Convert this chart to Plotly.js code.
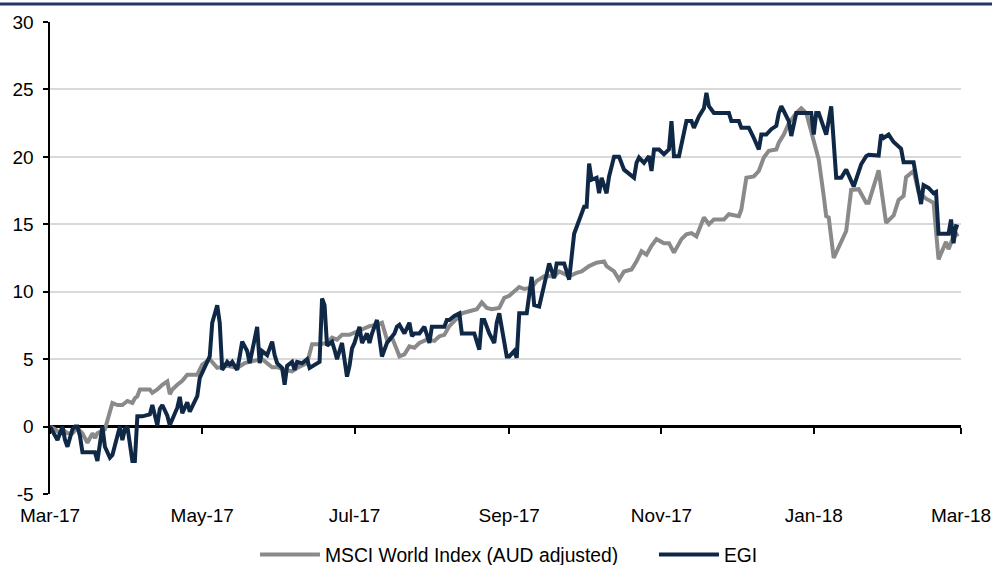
<!DOCTYPE html>
<html>
<head>
<meta charset="utf-8">
<script src="https://cdn.plot.ly/plotly-3.0.1.min.js"></script>
<style>
  html, body { margin: 0; padding: 0; background: #ffffff; }
  #chart { width: 992px; height: 565px; }
</style>
</head>
<body>
<div id="chart"></div>
<script>
// Cumulative performance (%), March 2017 to March 2018
const msciDates = [
  '2017-03-01','2017-03-03','2017-03-05','2017-03-06','2017-03-08','2017-03-10','2017-03-12','2017-03-14',
  '2017-03-16','2017-03-18','2017-03-19','2017-03-20','2017-03-23','2017-03-25','2017-03-26','2017-03-28',
  '2017-03-30','2017-04-01','2017-04-03','2017-04-04','2017-04-05','2017-04-06','2017-04-10','2017-04-11',
  '2017-04-13','2017-04-15','2017-04-17','2017-04-18','2017-04-19','2017-04-21','2017-04-23','2017-04-25',
  '2017-04-29','2017-05-01','2017-05-04','2017-05-07','2017-05-11','2017-05-15','2017-05-18','2017-05-21',
  '2017-05-25','2017-05-29','2017-05-31','2017-06-03','2017-06-06','2017-06-08','2017-06-12','2017-06-14',
  '2017-06-17','2017-06-20','2017-06-22','2017-06-24','2017-06-26','2017-06-29','2017-07-01','2017-07-04',
  '2017-07-07','2017-07-10','2017-07-12','2017-07-14','2017-07-16','2017-07-18','2017-07-19','2017-07-21',
  '2017-07-23','2017-07-25','2017-07-27','2017-07-30','2017-08-02','2017-08-04','2017-08-06','2017-08-08',
  '2017-08-11','2017-08-13','2017-08-16','2017-08-19','2017-08-21','2017-08-23','2017-08-25','2017-08-28',
  '2017-08-30','2017-09-01','2017-09-05','2017-09-07','2017-09-10','2017-09-12','2017-09-15','2017-09-19',
  '2017-09-21','2017-09-25','2017-09-28','2017-09-30','2017-10-03','2017-10-06','2017-10-09','2017-10-10',
  '2017-10-13','2017-10-15','2017-10-17','2017-10-20','2017-10-22','2017-10-24','2017-10-26','2017-10-28',
  '2017-10-30','2017-11-02','2017-11-04','2017-11-06','2017-11-09','2017-11-11','2017-11-13','2017-11-15',
  '2017-11-18','2017-11-20','2017-11-22','2017-11-26','2017-11-28','2017-12-02','2017-12-03','2017-12-05',
  '2017-12-08','2017-12-10','2017-12-12','2017-12-14','2017-12-17','2017-12-18','2017-12-20','2017-12-22',
  '2017-12-25','2017-12-27','2017-12-29','2017-12-30','2017-12-31','2018-01-03','2018-01-05','2018-01-06',
  '2018-01-07','2018-01-09','2018-01-14','2018-01-16','2018-01-19','2018-01-22','2018-01-23','2018-01-25',
  '2018-01-27','2018-01-30','2018-02-02','2018-02-04','2018-02-06','2018-02-07','2018-02-10','2018-02-12',
  '2018-02-15','2018-02-18','2018-02-20','2018-02-23','2018-02-24','2018-02-26','2018-02-28'
];
const msciValues = [
  0, -0.2, -0.5, -0.2, -0.5, -0.5, -0.1, -0.5,
  -1.2, -0.5, -0.85, -0.5, -0.2, 1.25, 1.75, 1.6,
  1.6, 1.9, 1.75, 2.1, 2.25, 2.75, 2.75, 2.5,
  2.75, 3.1, 3.35, 2.4, 2.75, 3.1, 3.4, 3.85,
  3.85, 4.6, 5.0, 4.35, 4.5, 4.35, 4.7, 4.85,
  5.0, 4.4, 4.4, 4.2, 4.1, 4.35, 4.7, 6.1,
  6.1, 6.2, 6.6, 6.45, 6.8, 6.8, 6.95, 7.2,
  7.45, 7.55, 7.7, 6.45, 6.6, 5.7, 5.2, 5.35,
  5.95, 5.85, 6.2, 6.45, 6.35, 6.7, 6.8, 7.45,
  8.05, 8.4, 8.55, 8.7, 9.2, 8.8, 8.7, 8.8,
  9.55, 9.7, 10.35, 10.2, 10.3, 10.8, 11.15, 11.15,
  11.5, 11.15, 11.4, 11.5, 11.9, 12.15, 12.25, 11.9,
  11.5, 10.9, 11.5, 11.65, 12.25, 13.0, 12.75, 13.4,
  13.9, 13.6, 13.6, 12.9, 13.9, 14.25, 14.35, 14.1,
  15.5, 15.0, 15.35, 15.35, 15.75, 15.6, 16.1, 18.45,
  18.55, 18.95, 19.95, 20.45, 20.55, 21.05, 21.65, 22.5,
  23.25, 23.6, 23.25, 22.5, 22.0, 19.8, 17.1, 15.6,
  15.5, 12.5, 14.5, 17.55, 17.6, 16.6, 16.6, 17.8,
  19.0, 15.1, 15.65, 16.8, 17.1, 18.5, 18.95, 17.4,
  16.9, 16.6, 12.4, 13.7, 13.15, 14.1, 14.3
];

const egiDates = [
  '2017-03-01','2017-03-04','2017-03-06','2017-03-07','2017-03-08','2017-03-10','2017-03-11','2017-03-12',
  '2017-03-13','2017-03-14','2017-03-16','2017-03-19','2017-03-20','2017-03-22','2017-03-23','2017-03-25',
  '2017-03-26','2017-03-28','2017-03-29','2017-03-30','2017-03-31','2017-04-01','2017-04-03','2017-04-04',
  '2017-04-05','2017-04-07','2017-04-10','2017-04-11','2017-04-13','2017-04-14','2017-04-15','2017-04-17',
  '2017-04-18','2017-04-21','2017-04-22','2017-04-23','2017-04-25','2017-04-26','2017-04-27','2017-04-29',
  '2017-04-30','2017-05-03','2017-05-04','2017-05-05','2017-05-07','2017-05-08','2017-05-09','2017-05-11',
  '2017-05-12','2017-05-13','2017-05-15','2017-05-16','2017-05-17','2017-05-19','2017-05-20','2017-05-21',
  '2017-05-23','2017-05-24','2017-05-25','2017-05-27','2017-05-29','2017-05-30','2017-05-31','2017-06-02',
  '2017-06-03','2017-06-04','2017-06-06','2017-06-07','2017-06-08','2017-06-10','2017-06-12','2017-06-13',
  '2017-06-16','2017-06-17','2017-06-18','2017-06-19','2017-06-20','2017-06-22','2017-06-23','2017-06-24',
  '2017-06-26','2017-06-28','2017-06-29','2017-06-30','2017-07-01','2017-07-03','2017-07-04','2017-07-06',
  '2017-07-07','2017-07-08','2017-07-10','2017-07-11','2017-07-12','2017-07-14','2017-07-15','2017-07-17',
  '2017-07-18','2017-07-19','2017-07-21','2017-07-23','2017-07-24','2017-07-25','2017-07-27','2017-07-29',
  '2017-07-31','2017-08-01','2017-08-04','2017-08-06','2017-08-07','2017-08-08','2017-08-10','2017-08-12',
  '2017-08-13','2017-08-16','2017-08-18','2017-08-20','2017-08-21','2017-08-22','2017-08-24','2017-08-26',
  '2017-08-27','2017-08-28','2017-08-30','2017-08-31','2017-09-01','2017-09-03','2017-09-04','2017-09-05',
  '2017-09-08','2017-09-10','2017-09-11','2017-09-13','2017-09-17','2017-09-19','2017-09-20','2017-09-23',
  '2017-09-25','2017-09-27','2017-10-01','2017-10-02','2017-10-03','2017-10-04','2017-10-06','2017-10-07',
  '2017-10-08','2017-10-10','2017-10-11','2017-10-13','2017-10-15','2017-10-17','2017-10-21','2017-10-22',
  '2017-10-23','2017-10-25','2017-10-27','2017-10-28','2017-10-29','2017-10-31','2017-11-02','2017-11-04',
  '2017-11-05','2017-11-06','2017-11-08','2017-11-11','2017-11-13','2017-11-14','2017-11-16','2017-11-18',
  '2017-11-19','2017-11-20','2017-11-22','2017-11-28','2017-11-29','2017-12-02','2017-12-03','2017-12-06',
  '2017-12-08','2017-12-10','2017-12-11','2017-12-13','2017-12-15','2017-12-17','2017-12-18','2017-12-19',
  '2017-12-20','2017-12-22','2017-12-23','2017-12-25','2017-12-29','2017-12-31','2018-01-01','2018-01-02',
  '2018-01-03','2018-01-06','2018-01-08','2018-01-10','2018-01-12','2018-01-14','2018-01-17','2018-01-20',
  '2018-01-22','2018-01-23','2018-01-27','2018-01-28','2018-01-29','2018-01-31','2018-02-02','2018-02-05',
  '2018-02-06','2018-02-10','2018-02-12','2018-02-13','2018-02-14','2018-02-16','2018-02-18','2018-02-19',
  '2018-02-20','2018-02-24','2018-02-25','2018-02-26','2018-02-27','2018-02-28'
];
const egiValues = [
  0, -1.0, 0, -1.0, -1.5, -0.2, 0, 0,
  -0.7, -1.9, -1.9, -1.9, -2.55, 0, -1.5, -2.3,
  -2.1, -0.6, 0, -1.0, -0.2, 0, -2.55, -2.55,
  0.76, 0.76, 0.9, 1.6, 0.1, 1.3, 1.6, 0.8,
  0.1, 1.4, 2.2, 1.0, 1.8, 1.1, 1.5, 2.25,
  3.6, 4.8, 5.2, 7.7, 9.0, 7.7, 4.2, 4.8,
  4.6, 4.8, 4.2, 5.2, 6.3, 5.6, 4.7, 5.6,
  7.4, 4.7, 5.6, 5.3, 6.3, 5.3, 4.7, 4.35,
  3.1, 4.5, 4.8, 4.2, 4.8, 4.7, 5.0, 4.35,
  4.7, 4.8, 9.5, 9.0, 6.0, 6.3, 5.7, 5.0,
  6.2, 3.7, 4.5, 5.8, 6.2, 7.4, 6.2, 6.9,
  6.2, 6.9, 7.9, 6.7, 5.2, 6.2, 6.45, 6.9,
  7.4, 7.55, 6.9, 7.7, 6.7, 6.9, 6.9, 7.4,
  6.2, 7.4, 7.4, 7.4, 7.9, 7.9, 8.2, 8.4,
  6.9, 6.9, 6.9, 5.7, 7.9, 7.9, 6.9, 6.2,
  7.7, 8.4, 6.2, 5.2, 5.2, 5.6, 5.1, 8.4,
  8.4, 11.1, 9.0, 8.9, 12.1, 11.0, 12.1, 12.1,
  10.9, 14.3, 16.3, 16.3, 19.5, 18.3, 18.45, 17.3,
  18.45, 17.3, 18.55, 20.0, 20.0, 19.05, 18.45, 19.55,
  19.95, 19.55, 20.05, 18.95, 20.55, 20.55, 20.2, 20.55,
  22.65, 20.05, 20.05, 22.65, 22.65, 22.15, 23.0, 23.6,
  24.75, 23.75, 23.25, 23.25, 22.65, 22.65, 22.15, 22.15,
  21.4, 20.55, 21.65, 21.65, 22.05, 22.3, 23.25, 23.75,
  23.4, 22.65, 21.55, 23.25, 23.25, 23.25, 21.65, 23.25,
  23.25, 21.65, 23.75, 18.45, 18.45, 19.05, 17.8, 19.45,
  20.05, 20.15, 20.1, 21.65, 21.4, 21.65, 21.1, 20.6,
  19.6, 19.6, 17.5, 16.5, 17.9, 17.7, 17.3, 17.4,
  14.3, 14.3, 15.35, 13.6, 14.85, 14.8
];

const tickDates = ['2017-03-01','2017-05-01','2017-07-01','2017-09-01','2017-11-01','2018-01-01','2018-03-01'];
const tickLabels = ['Mar-17','May-17','Jul-17','Sep-17','Nov-17','Jan-18','Mar-18'];
const yTickValues = [-5, 0, 5, 10, 15, 20, 25, 30];
const yTickLabels = ['-5', '0', '5', '10', '15', '20', '25', '30'];
const seriesNames = ['MSCI World Index (AUD adjusted)', 'EGI'];

const NAVY = '#0f2846';
const GREY = '#8a8a8a';
const FONT = '"Liberation Sans", Arial, Helvetica, sans-serif';
const dateRange = ['2017-03-01', '2018-03-01'];
const yMin = -5, yMax = 30;

const traces = [
  {
    type: 'scatter', mode: 'lines',
    x: msciDates, y: msciValues,
    name: seriesNames[0],
    line: { color: GREY, width: 4 },
    hoverinfo: 'skip'
  },
  {
    type: 'scatter', mode: 'lines',
    x: egiDates, y: egiValues,
    name: seriesNames[1],
    xaxis: 'x2',
    line: { color: NAVY, width: 4 },
    hoverinfo: 'skip'
  }
];

const layout = {
  width: 992,
  height: 565,
  margin: { l: 50, r: 31, t: 22, b: 71, autoexpand: false },
  paper_bgcolor: '#ffffff',
  plot_bgcolor: '#ffffff',
  font: { family: FONT, size: 19, color: '#000000' },
  showlegend: true,
  legend: {
    orientation: 'h',
    x: 0.225, xanchor: 'left',
    y: -0.129, yanchor: 'middle',
    font: { family: FONT, size: 19.3, color: '#000000' },
    itemwidth: 60,
    entrywidth: 324,
    entrywidthmode: 'pixels',
    bgcolor: 'rgba(0,0,0,0)'
  },
  // date axis carrying the month labels along the bottom
  xaxis: {
    type: 'date',
    range: dateRange,
    tickvals: tickDates,
    ticktext: tickLabels,
    showgrid: false,
    zeroline: false,
    showline: false,
    ticks: 'outside',
    ticklen: 4,
    tickcolor: 'rgba(0,0,0,0)',
    tickfont: { family: FONT, size: 19, color: '#000000' },
    fixedrange: true
  },
  // unlabelled twin axis that hangs the tick marks off the zero line
  xaxis2: {
    type: 'date',
    range: dateRange,
    overlaying: 'x',
    anchor: 'free',
    position: (0 - yMin) / (yMax - yMin),
    tickvals: tickDates,
    showticklabels: false,
    showgrid: false,
    zeroline: false,
    showline: false,
    ticks: 'outside',
    ticklen: 6,
    tickwidth: 2,
    tickcolor: '#000000',
    fixedrange: true
  },
  yaxis: {
    range: [yMin, yMax],
    tickvals: yTickValues,
    ticktext: yTickLabels,
    showgrid: true,
    gridcolor: '#d9d9d9',
    gridwidth: 2,
    zeroline: true,
    zerolinecolor: '#000000',
    zerolinewidth: 2.5,
    showline: true,
    linecolor: '#000000',
    linewidth: 2.5,
    ticks: 'outside',
    ticklen: 5,
    tickwidth: 2,
    tickcolor: '#000000',
    ticklabelstandoff: 5,
    tickfont: { family: FONT, size: 19, color: '#000000' },
    fixedrange: true
  },
  shapes: [
    {
      type: 'line', xref: 'paper', yref: 'paper',
      x0: -0.06, x1: 1.04, y0: 1.038, y1: 1.038,
      line: { color: '#1f3864', width: 3 }
    }
  ]
};

Plotly.newPlot('chart', traces, layout, { displayModeBar: false, staticPlot: true });
</script>
</body>
</html>
